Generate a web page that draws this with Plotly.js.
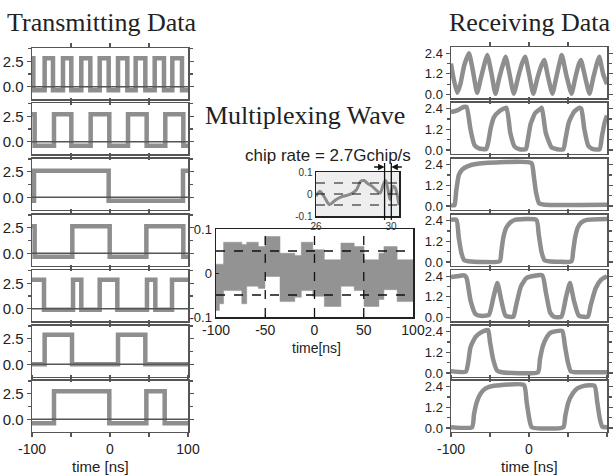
<!DOCTYPE html>
<html><head><meta charset="utf-8">
<script src="https://cdn.plot.ly/plotly-3.0.1.min.js"></script>
<style>html,body{margin:0;padding:0;background:#fff}#chart{width:615px;height:476px}</style>
</head><body><div id="chart"></div>
<script>
// ---------------- DATA ----------------
// Transmitting data: transition times [ns] and the level after each transition (1 = high, 0 = low)
const txStart  = [1, 1, 0, 1, 1, 0, 0];
const txTimes1 = [-98.3,-83.8,-73.1,-60.3,-49.6,-36.8,-25.2,-13.2,-1.7,10.3,22.2,32.9,45.3,57.3,69.2,79.9,92.3];
const txTimes2 = [-96.6,-71.8,-49.6,-24.8,-0.9,23.1,47.0,70.9,94.0];
const txTimes3 = [-97.4,-1.7,93.6];
const txTimes4 = [-96.6,-48.3,-0.4,46.6,94.0];
const txTimes5 = [-84.6,-47.4,-36.8,-13.2,9.4,47.4,58.1,79.5];
const txTimes6 = [-83.8,-48.7,10.3,45.3];
const txTimes7 = [-71.8,-0.9,46.6,70.1];
const txHigh = [2.8, 2.7, 2.6, 2.65, 2.85, 2.9, 2.75];
const txLow  = [-0.35, -0.4, -0.35, -0.35, -0.1, 0.0, -0.4];

// Receiving data: [time, value] samples
const rx1T = [-100,-97,-92,-88,-83,-77,-72,-66.5,-62,-57,-53.5,-48,-43,-38,-33,-30,-25,-19.5,-14,-9,-5,0.5,5.5,11,16,19.5,24.5,30,35,39,42,48,54.5,59.5,63.5,66.5,72,77.5,82.5,87,90,95,100];
const rx1V = [1.8,1.0,0.1,0.6,1.7,2.4,1.4,0.1,0.9,1.8,2.3,1.2,0.05,1.0,1.8,2.2,1.2,0.05,1.0,1.8,2.2,1.1,0.05,1.0,1.7,2.0,1.0,0.05,1.0,1.8,2.3,1.1,0.05,1.0,1.7,2.0,1.0,0.05,1.0,1.8,2.2,1.2,0.6];
const rx2T = [-100,-92,-84,-80,-75,-70,-64,-55,-52.5,-49,-45,-38,-29,-24,-18.5,-12,-4,-1.5,2,8,15,16.5,21.5,29,36,44,47,51,57.5,64,67,71,76,82,90.5,93.5,97,100];
const rx2V = [2.2,2.3,2.5,2.5,1.2,0.3,0.1,0.05,0.4,1.3,1.9,2.25,2.45,1.0,0.2,0.05,0.05,0.6,1.5,2.15,2.4,2.45,1.0,0.15,0.05,0.05,0.7,1.6,2.2,2.45,2.4,1.2,0.25,0.05,0.05,0.8,1.6,2.0];
const rx3T = [-100,-95.5,-93.5,-90,-86,-79,-66,3,6,9,13,20,100];
const rx3V = [0.05,0.05,0.8,1.8,2.1,2.3,2.45,2.5,1.8,0.8,0.15,0.08,0.08];
const rx4T = [-100,-93,-90,-86.5,-83,-78,-37.5,-35.5,-33,-29,-24,-18,9.5,12.5,16,20,25,54.5,56.5,59,62.5,67,74,100];
const rx4V = [2.45,2.45,1.4,0.5,0.1,0.05,0.05,0.6,1.4,2.0,2.3,2.45,2.45,1.6,0.6,0.1,0.05,0.05,0.6,1.4,2.0,2.3,2.45,2.5];
const rx5T = [-100,-92,-83,-80,-75,-68.5,-62,-51.5,-45.5,-40.5,-35.5,-30,-20,-17,-10.5,-3,17,21.5,27,32,41.5,47.5,52.5,57.5,64,75.5,79,85.5,92.5,100];
const rx5V = [2.35,2.4,2.45,2.3,1.0,0.2,0.1,0.15,1.2,2.0,1.0,0.1,0.05,0.6,1.8,2.3,2.45,1.5,0.3,0.05,0.05,1.2,2.0,1.0,0.1,0.05,0.7,1.7,2.2,2.4];
const rx6T = [-100,-81,-78,-75,-68.5,-60,-52.5,-50,-46,-41,-35,11.5,14,18,23,28,42.5,46,50,53.5,60,100];
const rx6V = [0.1,0.08,0.6,1.5,2.1,2.4,2.5,1.8,0.8,0.15,0.05,0.05,0.8,1.6,2.1,2.35,2.45,1.6,0.6,0.1,0.05,0.05];
const rx7T = [-100,-73,-70.5,-67,-62,-55.5,-45,-6.5,-3,0.5,3.5,44,46.5,50.5,56,62,70.5,84,87.5,91,94,100];
const rx7V = [0.05,0.05,0.8,1.5,2.0,2.3,2.45,2.5,1.5,0.5,0.05,0.05,0.7,1.5,2.0,2.3,2.45,2.45,1.5,0.5,0.08,0.05];

// Multiplexing wave: envelope (upper / lower) of the dense waveform, per segment start time
const muxT     = [-100,-96.6,-92.3,-73.8,-68.8,-57,-50.3,-35,-20,-13.4,-1.7,10,26.8,40.3,50.3,65.4,70.5,83.9,100];
const muxUpper = [0.02,0.02,0.07,0.065,0.07,0.06,0.083,0.045,0.04,0.07,0.053,0.03,0.068,0.06,0.03,0.045,0.06,0.03,0.03];
const muxLower = [-0.085,-0.07,-0.04,-0.07,-0.03,-0.035,-0.008,-0.065,-0.055,-0.04,-0.053,-0.076,-0.03,-0.04,-0.076,-0.06,-0.038,-0.065,-0.065];
const muxGridT = [-50, 0, 50];
const muxGridV = [-0.05, 0.05];

// Inset (zoom of the multiplexed wave around t = 26..30 ns)
const insetT = [26.0,26.2,26.4,26.63,26.72,27.08,27.35,27.62,27.9,28.16,28.38,28.56,28.74,28.97,29.2,29.42,29.6,29.72,29.84,29.95,30.1,30.22,30.43];
const insetV = [-0.01,0.012,-0.007,-0.04,-0.048,-0.025,-0.013,-0.007,0.0015,0.019,0.057,0.061,0.049,0.037,0.019,0.004,0.045,0.061,0.02,-0.025,0.035,0.03,-0.05];
const insetGridV = [-0.05, 0, 0.05];
const chipMarks = [29.66, 30.02];

// Tick labels
const leftYTicks = [0, 2.5], leftYText = ['0.0', '2.5'];
const rightYTicks = [0, 1.2, 2.4], rightYText = ['0.0', '1.2', '2.4'];
const timeTicks = [-100, -50, 0, 50, 100], timeText = ['-100', '', '0', '', '100'];
const muxXText = ['-100', '-50', '0', '50', '100'];
const muxYTicks = [-0.1, 0, 0.1], muxYText = ['-0.1', '0', '0.1'];
const insetXTicks = [26, 30];

// ---------------- LAYOUT HELPERS ----------------
const W = 615, H = 476;
const dX = (a, b) => [a / W, b / W];
const dY = (top, bot) => [1 - bot / H, 1 - top / H];
const SANS = 'Liberation Sans, Arial, sans-serif';
const SERIF = 'Liberation Serif, Times New Roman, serif';
const GRAY = '#8e8e8e', FRAME = '#555';

const layout = {
  width: W, height: H, margin: {l: 0, r: 0, t: 0, b: 0},
  paper_bgcolor: '#fff', plot_bgcolor: 'rgba(0,0,0,0)', showlegend: false,
  shapes: [], annotations: []
};
const data = [];

const leftTops = [48, 103, 158.5, 214.5, 270, 325.5, 380.5];
const rightTops = [47, 102.5, 158.5, 214.5, 270, 325.5, 380.5];
const PH = 51;
const txTimes = [txTimes1, txTimes2, txTimes3, txTimes4, txTimes5, txTimes6, txTimes7];
const rxT = [rx1T, rx2T, rx3T, rx4T, rx5T, rx6T, rx7T];
const rxV = [rx1V, rx2V, rx3V, rx4V, rx5V, rx6V, rx7V];

function timeAxis(n, dom, bottom) {
  return {
    domain: dom, anchor: 'y' + n, range: [-100, 100],
    showline: true, mirror: 'ticks', linecolor: FRAME, linewidth: 1.5,
    ticks: 'outside', ticklen: 4, tickcolor: FRAME, tickwidth: 1.2,
    tickvals: bottom ? timeTicks : [-50, 0, 50], ticktext: bottom ? timeText : ['', '', ''],
    showticklabels: bottom, tickfont: {family: SANS, size: 14, color: '#222'},
    showgrid: false, zeroline: false
  };
}

// Left (transmitting) panels
for (let i = 0; i < 7; i++) {
  const n = i + 1;
  const xs = [-100], ys = [];
  let state = txStart[i];
  ys.push(state ? txHigh[i] : txLow[i]);
  txTimes[i].forEach(t => { state = 1 - state; xs.push(t); ys.push(state ? txHigh[i] : txLow[i]); });
  xs.push(100); ys.push(ys[ys.length - 1]);
  data.push({x: xs, y: ys, xaxis: 'x' + n, yaxis: 'y' + n, mode: 'lines',
    line: {color: GRAY, width: 4.5, shape: 'hv'}, hoverinfo: 'skip'});
  const key = n === 1 ? '' : n;
  layout['xaxis' + key] = timeAxis(n, dX(32, 188), i === 6);
  layout['yaxis' + key] = {
    domain: dY(leftTops[i], leftTops[i] + PH), anchor: 'x' + n, range: [-1.2, 3.8],
    showline: true, mirror: 'ticks', linecolor: FRAME, linewidth: 1.5,
    ticks: 'outside', ticklen: 4, tickcolor: FRAME, tickwidth: 1.2,
    tickvals: leftYTicks, ticktext: leftYText, tickfont: {family: SANS, size: 15, color: '#222'},
    minor: {dtick: 1.25, tick0: 0, ticks: 'outside', ticklen: 3, tickcolor: FRAME},
    showgrid: false, zeroline: false
  };
  layout.shapes.push({type: 'line', xref: 'x' + n + ' domain', yref: 'y' + n, x0: 0, x1: 1, y0: 0, y1: 0,
    line: {color: '#555', width: 1.5}, layer: 'above'});
}

// Right (receiving) panels
for (let i = 0; i < 7; i++) {
  const n = i + 8;
  data.push({x: rxT[i], y: rxV[i], xaxis: 'x' + n, yaxis: 'y' + n, mode: 'lines',
    line: {color: GRAY, width: 4.5, shape: 'spline', smoothing: 0.5}, hoverinfo: 'skip'});
  layout['xaxis' + n] = timeAxis(n, dX(451, 607), i === 6);
  layout['yaxis' + n] = {
    domain: dY(rightTops[i], rightTops[i] + PH), anchor: 'x' + n, range: [-0.2, 2.76],
    showline: true, mirror: 'ticks', linecolor: FRAME, linewidth: 1.5,
    ticks: 'outside', ticklen: 4, tickcolor: FRAME, tickwidth: 1.2,
    tickvals: rightYTicks, ticktext: rightYText, tickfont: {family: SANS, size: 13, color: '#222'},
    minor: {dtick: 0.6, tick0: 0, ticks: 'outside', ticklen: 3, tickcolor: FRAME},
    showgrid: false, zeroline: false
  };
}

// Main multiplexing wave (axis 15)
data.push({x: muxT, y: muxUpper, xaxis: 'x15', yaxis: 'y15', mode: 'lines',
  line: {color: '#939393', width: 0.5, shape: 'hv'}, hoverinfo: 'skip'});
data.push({x: muxT, y: muxLower, xaxis: 'x15', yaxis: 'y15', mode: 'lines', fill: 'tonexty',
  fillcolor: '#939393', line: {color: '#939393', width: 0.5, shape: 'hv'}, hoverinfo: 'skip'});
layout.xaxis15 = {
  domain: dX(216, 413), anchor: 'y15', range: [-100, 100],
  showline: true, mirror: true, linecolor: '#222', linewidth: 1.5,
  ticks: 'inside', ticklen: 3, tickcolor: '#222',
  tickvals: timeTicks, ticktext: muxXText, tickfont: {family: SANS, size: 14, color: '#222'},
  showgrid: false, zeroline: false
};
layout.yaxis15 = {
  domain: dY(229, 317), anchor: 'x15', range: [-0.1, 0.1],
  showline: true, mirror: true, linecolor: '#222', linewidth: 1.5,
  ticks: 'inside', ticklen: 3, tickcolor: '#222',
  tickvals: muxYTicks, ticktext: muxYText, tickfont: {family: SANS, size: 13, color: '#222'},
  showgrid: false, zeroline: false
};
muxGridT.forEach(t => layout.shapes.push({type: 'line', xref: 'x15', yref: 'y15 domain', x0: t, x1: t, y0: 0, y1: 1,
  line: {color: '#111', width: 1.3, dash: 'dash'}, layer: 'above'}));
muxGridV.forEach(v => layout.shapes.push({type: 'line', xref: 'x15 domain', yref: 'y15', x0: 0, x1: 1, y0: v, y1: v,
  line: {color: '#111', width: 1.3, dash: 'dash'}, layer: 'above'}));

// Inset (axis 16)
layout.shapes.push({type: 'rect', xref: 'x16 domain', yref: 'y16 domain', x0: 0, x1: 1, y0: 0, y1: 1,
  fillcolor: '#eeeeee', line: {width: 0}, layer: 'below'});
data.push({x: insetT, y: insetV, xaxis: 'x16', yaxis: 'y16', mode: 'lines',
  line: {color: '#8a8a8a', width: 3, shape: 'spline', smoothing: 0.8}, hoverinfo: 'skip'});
layout.xaxis16 = {
  domain: dX(316, 399), anchor: 'y16', range: [26, 30.43],
  showline: true, mirror: true, linecolor: '#222', linewidth: 1.5, ticks: '',
  tickvals: insetXTicks, tickfont: {family: SANS, size: 10, color: '#333'},
  showgrid: false, zeroline: false
};
layout.yaxis16 = {
  domain: dY(172, 216), anchor: 'x16', range: [-0.1, 0.1],
  showline: true, mirror: true, linecolor: '#222', linewidth: 1.5, ticks: '',
  tickvals: muxYTicks, ticktext: muxYText, tickfont: {family: SANS, size: 10, color: '#333'},
  showgrid: false, zeroline: false
};
insetGridV.forEach(v => layout.shapes.push({type: 'line', xref: 'x16 domain', yref: 'y16', x0: 0, x1: 1, y0: v, y1: v,
  line: {color: '#111', width: 1.2, dash: 'dash'}, layer: 'above'}));
chipMarks.forEach(t => layout.shapes.push({type: 'line', xref: 'x16', yref: 'paper', x0: t, x1: t,
  y0: 1 - 220 / H, y1: 1 - 163 / H, line: {color: '#111', width: 1.3}, layer: 'above'}));
chipMarks.forEach((t, k) => layout.annotations.push({x: t, y: 1 - 167 / H, xref: 'x16', yref: 'paper', text: '',
  showarrow: true, arrowhead: 2, arrowsize: 1, arrowwidth: 1.3, arrowcolor: '#111',
  ax: k === 0 ? -12 : 12, ay: 0}));

// Titles and labels
const ann = (text, x, y, size, family) => layout.annotations.push({text, x: x / W, y: 1 - y / H,
  xref: 'paper', yref: 'paper', xanchor: 'center', yanchor: 'middle', showarrow: false,
  font: {family, size, color: '#222'}});
ann('Transmitting Data', 101, 22, 26, SERIF);
ann('Receiving Data', 529, 22, 26, SERIF);
ann('Multiplexing Wave', 305, 115, 26, SERIF);
ann('chip rate = 2.7Gchip/s', 328, 156, 17, SANS);
ann('time[ns]', 316, 348, 14, SANS);
ann('time [ns]', 100, 466, 15, SANS);
ann('time [ns]', 529, 466, 15, SANS);

Plotly.newPlot('chart', data, layout, {staticPlot: true, displayModeBar: false});
</script></body></html>
